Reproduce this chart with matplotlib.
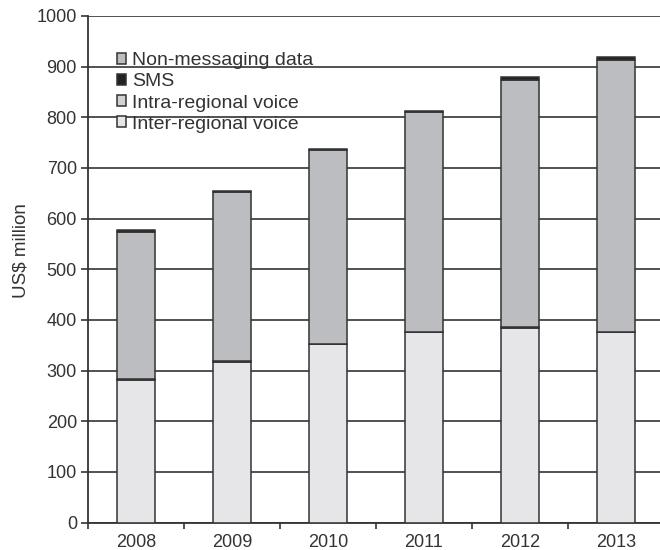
import numpy as np
import matplotlib.pyplot as plt

plt.rcParams['font.family'] = ['Liberation Sans', 'DejaVu Sans']

#------------------------------------------------------------------------------
years     = ['2008', '2009', '2010', '2011', '2012', '2013']
inter_reg = [282, 317, 352, 376, 384, 376]
intra_reg = [1, 1, 1, 1, 1, 1]
non_msg   = [290, 335, 383, 434, 488, 536]
sms       = [5, 1, 1, 1, 6, 6]
yticks    = list(range(0, 1001, 100))

#------------------------------------------------------------------------------
fig = plt.figure(figsize=(6.6, 5.5), dpi=100)
ax = fig.add_axes([88/660, 1-522.5/550, 572/660, (522.5-16)/550])

x = np.arange(len(years))
w = 0.4
ec = '#333333'
lw = 1.1

b1 = ax.bar(x, inter_reg, w, color='#e6e6e8', edgecolor=ec, linewidth=lw, zorder=3,
            label='Inter-regional voice')
bottom = np.array(inter_reg)
b2 = ax.bar(x, intra_reg, w, bottom=bottom, color='#d2d2d5', edgecolor=ec, linewidth=lw,
            zorder=3, label='Intra-regional voice')
bottom = bottom + np.array(intra_reg)
b3 = ax.bar(x, non_msg, w, bottom=bottom, color='#bcbdc1', edgecolor=ec, linewidth=lw,
            zorder=3, label='Non-messaging data')
bottom = bottom + np.array(non_msg)
b4 = ax.bar(x, sms, w, bottom=bottom, color='#222222', edgecolor=ec, linewidth=lw,
            zorder=3, label='SMS')

ax.set_xlim(-0.5, 5.46)
ax.set_ylim(0, 1000)
ax.set_yticks(yticks)
ax.set_xticks(x)
ax.set_xticklabels(years)
ax.set_xticks(np.arange(-0.5, 5.0, 1.0), minor=True)
ax.tick_params(axis='x', which='major', length=0, pad=8, labelsize=13, labelcolor='#333333')
ax.tick_params(axis='x', which='minor', length=4, width=1.2, color=ec, direction='out')
ax.tick_params(axis='y', length=5, width=1.2, color=ec, labelsize=13, labelcolor='#333333', pad=3)

ax.yaxis.grid(True, color='#333333', linewidth=1.2, zorder=0)
ax.set_axisbelow(True)
for s in ['top', 'right']:
    ax.spines[s].set_visible(False)
for s in ['left', 'bottom']:
    ax.spines[s].set_color(ec)
    ax.spines[s].set_linewidth(1.3)

ax.set_ylabel('US$ million', fontsize=13.5, color='#333333')
ax.yaxis.set_label_coords(-58/572, (522.5-251)/506.5)

leg = ax.legend([b3, b4, b2, b1],
                ['Non-messaging data', 'SMS', 'Intra-regional voice', 'Inter-regional voice'],
                loc='upper left', bbox_to_anchor=(0.05, 0.929), frameon=False,
                fontsize=14, handlelength=0.5, handleheight=0.5, handletextpad=0.3,
                labelspacing=0.22, borderaxespad=0, borderpad=0)
for t in leg.get_texts():
    t.set_color('#333333')

fig.savefig('out.png', dpi=100)
